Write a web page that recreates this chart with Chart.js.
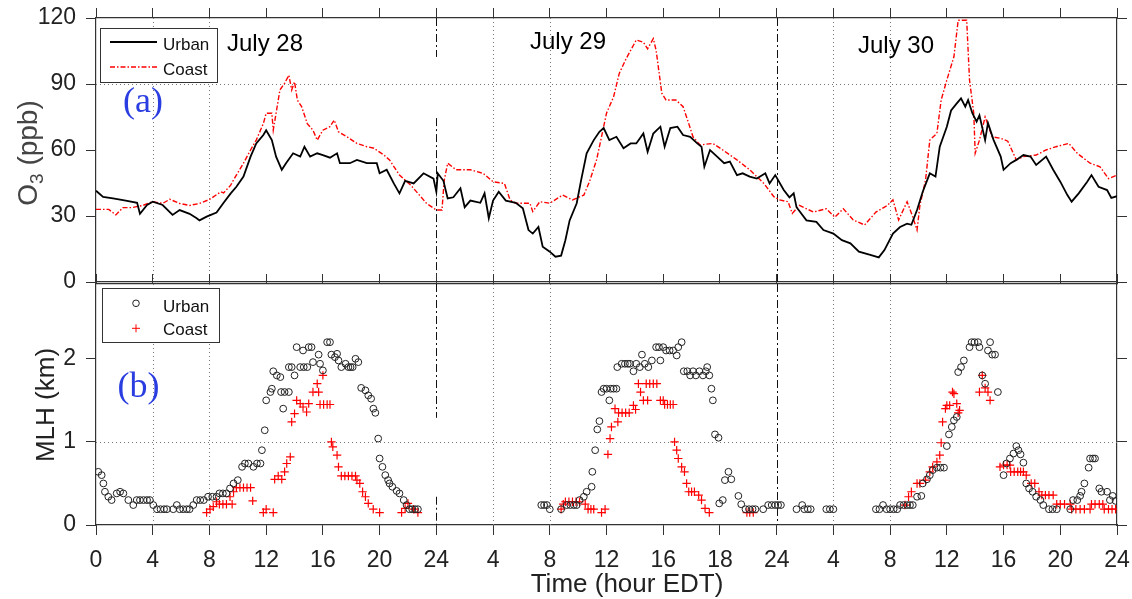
<!DOCTYPE html>
<html>
<head>
<meta charset="utf-8">
<script src="https://cdn.jsdelivr.net/npm/chart.js@4.4.1/dist/chart.umd.min.js"></script>
<style>
  html, body { margin: 0; padding: 0; background: #fff; }
  #wrap { position: relative; width: 1132px; height: 599px; overflow: hidden; }
  #cA { position: absolute; left: 0; top: 0; }
  #cB { position: absolute; left: 0; top: 270px; }
</style>
</head>
<body>
<div id="wrap">
  <canvas id="cA" width="1132" height="290" style="width:1132px;height:290px"></canvas>
  <canvas id="cB" width="1132" height="329" style="width:1132px;height:329px"></canvas>
</div>
<script>
// ---- axes ----
const xTickPos = [0,4,8,12,16,20,24,28,32,36,40,44,48,52,56,60,64,68,72];
const xTickLabels = ['0','4','8','12','16','20','24','4','8','12','16','18','24','4','8','12','16','20','24'];
const o3Ticks = [0,30,60,90,120];
const mlhTicks = [0,1,2];
const seriesNames = ['Urban','Coast'];
const dayLabels = ['July 28','July 29','July 30'];
const nightHours = [4,8,28,32,52,56];

// ---- (a) O3, ppb ----
const urbanO3Hours = [0,0.5,1.2,2.1,2.9,3.1,3.6,4.0,4.7,5.4,
  5.9,6.6,7.1,7.3,7.8,8.1,8.5,9.0,9.5,9.9,
  10.4,10.9,11.3,11.8,12.0,12.4,12.7,13.1,13.4,13.9,
  14.4,14.7,15.1,15.6,16.0,16.5,17.0,17.2,17.9,18.4,
  19.1,19.8,20.0,20.5,21.0,21.4,21.8,22.4,23.1,23.8,
  24.0,24.1,24.5,24.8,25.2,25.7,26.0,26.4,27.1,27.4,
  27.7,28.0,28.4,28.9,29.6,30.1,30.5,30.8,31.2,31.5,
  32.0,32.4,32.8,33.1,33.4,33.9,34.2,34.6,35.1,35.5,
  35.8,36.2,36.7,37.2,37.7,38.1,38.6,38.9,39.3,39.8,
  40.1,40.5,41.0,41.4,41.9,42.4,42.7,42.9,43.3,43.8,
  44.3,44.7,45.2,45.6,46.1,46.6,47.2,47.5,47.9,48.5,
  48.9,49.2,49.4,50.1,50.8,51.3,52.0,52.6,53.2,53.8,
  54.6,55.2,55.6,56.2,56.7,57.2,57.5,57.9,58.3,58.8,
  59.2,59.5,60.0,60.3,60.7,61.0,61.3,61.5,61.8,62.1,
  62.3,62.7,62.9,63.3,63.8,64.0,64.5,64.9,65.4,65.9,
  66.3,67.0,67.5,68.0,68.5,68.8,69.3,69.9,70.2,70.7,
  71.3,71.6,72.0];
const urbanO3 = [41.5,38.7,38,37,36,31,35,36.5,35,30.5,
  32.7,31,29,28,29.7,30.5,31.6,36,40.3,43.3,
  47.9,57,63,66.8,69,64.5,57,51,54,58.5,
  57,61.5,57,58.5,57.7,56.5,58.5,54,54,55.5,
  54,54,49.4,51,44.8,40.3,46,44.8,49.4,47,
  41,49.4,46,38,38.5,42.6,34,37,36,40.3,
  29,37,41,37,36,33.5,23.6,22,25,16,
  13.8,11.5,12,19,28,35.8,46,58.5,64.5,68.3,
  70,64.5,66,60.8,63,63,67.5,59.2,67.5,70.6,
  61.5,70,70.6,66.8,66,63,61.5,52.4,60,57,
  54,54.7,48.6,49.4,47.9,47,49.4,44.8,48.6,41.8,
  38.5,40.3,34,28,27.3,23.6,22,19,17.6,13.8,
  12.3,11.2,14.5,22,25,26.5,26,32.7,41,49.4,
  47.9,61.5,70.6,78,81.2,83.5,79.7,82.7,76.7,72.9,
  75.8,64.5,72.3,64.5,57,51,54,55.5,57.7,57,
  53.2,57,51,45.6,39.5,36.5,40.3,45.6,48.6,43.3,
  41.8,38.2,39];

const coastO3Hours = [0,0.9,1.4,1.9,2.5,3.3,4.0,4.7,5.2,5.9,
  6.6,7.3,8.0,8.8,9.0,9.5,9.7,10.4,10.9,11.3,
  11.8,12.0,12.4,12.5,12.97,13.3,13.6,13.8,14.0,14.2,
  14.5,14.9,15.3,15.6,16.0,16.5,16.8,17.1,17.7,18.4,
  19.1,19.6,20.3,20.7,21.4,22.2,22.9,23.3,24.0,24.4,
  24.55,24.8,25.4,26.4,27.3,28.0,28.8,29.2,29.6,30.6,
  30.8,31.3,32.0,32.9,33.6,34.4,34.8,35.3,35.6,36.0,
  36.5,36.9,37.4,38.1,38.6,38.9,39.3,39.5,39.9,40.2,
  40.9,41.4,41.8,42.1,42.6,43.5,44.2,45.2,46.1,47.1,
  47.8,48.2,48.8,49.1,49.6,50.6,51.5,52.1,52.7,53.4,
  54.2,55.0,55.8,56.2,56.6,57.2,57.6,57.9,58.1,58.5,
  58.8,59.3,59.6,60.0,60.5,60.8,61.4,61.6,61.9,62.0,
  62.3,62.7,63.2,63.8,64.3,64.9,65.4,66.3,67.0,67.7,
  68.6,69.2,70.1,70.8,71.4,72.0];
const coastO3 = [33,33,30.5,33.8,33.8,34.8,36.5,35.7,37.6,35.7,
  34.8,35.7,37.5,41,40.5,44,46.4,54,60,64.5,
  72,76.7,76.7,69,87.3,90.3,94,87.3,91,82.7,
  79.7,72,69,64.5,69,70.6,73.6,68.3,66,63,
  61.5,60.8,57.7,55.5,48.6,44,38.8,35.8,32.7,32.7,
  46,54,51,51,49.4,45.6,44.8,37.3,35.8,35.8,
  32,36.5,35.8,39.5,37.3,39.5,45.6,55.5,64.5,76.7,
  84.2,94.8,101.7,110,109,106,110.6,105.3,85.8,82.7,
  82.7,79.7,72,66,62.3,63,60,55.5,51,44.8,
  38.8,37.3,36.5,31.2,34.8,31.8,33.3,29.5,33.3,28.2,
  25.9,31.8,34.8,37.3,28.2,36.5,29.5,23.6,34.8,46.4,
  64.5,67.6,82.7,91.8,102.4,119,119,91.8,76.7,58.5,
  64.5,75,66,65.3,64,55.5,57,57.7,60,61.5,
  63,58.5,54,52.4,47,48.6];

// ---- (b) MLH, km : [hour, km] ----
const urbanMlh = [
  [0.16,0.64],[0.4,0.6],[0.52,0.5],[0.63,0.4],[0.87,0.34],[1.1,0.3],[1.46,0.38],[1.7,0.4],[1.93,0.38],[2.28,0.3],
  [2.63,0.24],[2.87,0.3],[3.1,0.3],[3.35,0.3],[3.6,0.3],[3.8,0.3],[4.04,0.24],[4.3,0.19],[4.55,0.19],[4.8,0.19],
  [5.0,0.19],[5.45,0.19],[5.7,0.24],[5.9,0.19],[6.15,0.19],[6.4,0.19],[6.6,0.19],[6.86,0.24],[7.1,0.3],[7.35,0.3],
  [7.6,0.3],[7.9,0.34],[8.2,0.34],[8.5,0.34],[8.7,0.38],[8.95,0.38],[9.2,0.38],[9.45,0.44],[9.7,0.5],[10.0,0.54],
  [10.3,0.7],[10.5,0.74],[10.75,0.74],[11.1,0.7],[11.35,0.74],[11.6,0.74],[11.7,0.9],[11.9,1.14],[12.0,1.5],[12.3,1.6],
  [12.4,1.64],[12.5,1.85],[12.75,1.8],[13.0,1.78],[13.05,1.6],[13.2,1.4],[13.3,1.6],[13.6,1.6],[13.6,1.9],[13.8,1.9],
  [14.0,1.8],[14.15,2.14],[14.4,1.9],[14.6,2.1],[14.65,1.9],[14.9,1.9],[15.0,2.14],[15.2,2.14],[15.3,1.96],[15.7,2.05],
  [15.8,1.94],[16.0,1.86],[16.3,2.2],[16.5,2.2],[16.6,2.05],[16.85,2.02],[17.0,2.06],[17.1,1.98],[17.3,1.9],[17.6,1.94],
  [17.8,1.9],[17.95,1.9],[18.1,1.9],[18.3,2.0],[18.5,1.96],[18.7,1.65],[19.0,1.62],[19.2,1.56],[19.4,1.52],[19.56,1.4],
  [19.7,1.35],[19.9,1.04],[20.0,0.8],[20.2,0.7],[20.4,0.6],[20.6,0.54],[20.7,0.5],[20.9,0.46],[21.2,0.41],[21.4,0.38],
  [21.7,0.3],[21.9,0.24],[22.1,0.19],[22.3,0.19],[22.5,0.19],[22.7,0.19],
  [31.4,0.24],[31.6,0.24],[31.8,0.24],[32.0,0.19],[32.8,0.19],[33.2,0.24],[33.45,0.24],[33.7,0.24],[33.9,0.24],[34.1,0.3],
  [34.4,0.34],[34.6,0.4],[34.95,0.46],[35.0,0.64],[35.2,0.9],[35.35,1.15],[35.5,1.25],[35.65,1.6],[35.8,1.64],[36.0,1.64],
  [36.2,1.5],[36.3,1.64],[36.5,1.64],[36.7,1.64],[36.76,1.9],[37.07,1.94],[37.3,1.94],[37.5,1.94],[37.65,1.94],[37.9,1.85],
  [38.1,1.94],[38.35,1.9],[38.5,2.05],[38.7,1.94],[38.95,1.9],[39.2,1.98],[39.5,2.14],[39.7,2.14],[39.8,1.98],[40.0,2.14],
  [40.2,2.1],[40.45,2.1],[40.7,2.1],[40.95,2.04],[41.06,2.14],[41.3,2.2],[41.45,1.85],[41.7,1.85],[41.9,1.8],[42.1,1.85],
  [42.3,1.8],[42.55,1.85],[42.8,1.8],[43.0,1.85],[43.1,1.9],[43.25,1.8],[43.4,1.64],[43.5,1.5],[43.65,1.09],[43.9,1.05],
  [43.95,0.26],[44.2,0.3],[44.35,0.54],[44.6,0.64],[44.8,0.55],[45.3,0.35],[45.5,0.25],[45.8,0.19],[46.05,0.19],[46.3,0.19],
  [46.5,0.19],[47.05,0.19],[47.4,0.24],[47.65,0.24],[47.9,0.24],[48.1,0.24],
  [48.3,0.24],[49.4,0.19],[49.8,0.24],[49.95,0.19],[50.2,0.19],[50.4,0.19],[51.5,0.19],[51.75,0.19],[52.0,0.19],[55.0,0.19],
  [55.25,0.19],[55.5,0.24],[55.75,0.19],[56.0,0.19],[56.25,0.19],[56.5,0.19],[56.7,0.24],[56.95,0.24],[57.2,0.24],[57.4,0.24],
  [57.6,0.24],[57.9,0.34],[58.2,0.35],[58.3,0.5],[58.6,0.55],[58.8,0.6],[59.0,0.66],[59.3,0.69],[59.55,0.69],[59.8,0.69],
  [60.0,0.95],[60.15,1.09],[60.35,1.18],[60.5,1.26],[60.7,1.3],[60.8,1.84],[61.0,1.9],[61.2,1.98],[61.6,2.14],[61.75,2.2],
  [61.95,2.2],[62.2,2.2],[62.3,2.14],[62.5,1.8],[62.7,1.7],[62.9,2.1],[63.05,2.2],[63.2,2.05],[63.4,2.05],[63.6,1.6],
  [64.0,0.6],[64.2,0.74],[64.45,0.8],[64.7,0.86],[64.9,0.95],[65.05,0.9],[65.2,0.85],[65.4,0.75],[65.6,0.5],[65.8,0.44],
  [66.05,0.4],[66.3,0.34],[66.6,0.3],[66.8,0.24],[67.2,0.19],[67.45,0.19],[67.75,0.19],[68.7,0.19],[68.9,0.3],[69.2,0.3],
  [69.4,0.35],[69.5,0.4],[69.7,0.5],[70.0,0.69],[70.1,0.8],[70.3,0.8],[70.45,0.8],[70.75,0.44],[70.9,0.4],[71.3,0.4],
  [71.5,0.3],[71.7,0.35],[71.9,0.29]
];
const coastMlh = [
  [7.8,0.15],[8.04,0.19],[8.27,0.22],[8.5,0.28],[8.7,0.25],[8.95,0.25],[9.2,0.25],[9.45,0.34],[9.6,0.25],[9.7,0.4],
  [9.9,0.45],[10.15,0.45],[10.4,0.45],[10.65,0.45],[10.9,0.45],[11.05,0.29],[11.8,0.15],[12.0,0.19],[12.5,0.15],[12.6,0.55],
  [12.85,0.59],[13.1,0.55],[13.3,0.64],[13.45,0.74],[13.7,0.82],[13.8,1.24],[14.0,1.34],[14.15,1.5],[14.4,1.46],[14.6,1.42],
  [14.85,1.36],[15.0,1.46],[15.3,1.6],[15.6,1.7],[15.7,1.6],[15.8,1.45],[16.0,1.8],[16.05,1.45],[16.3,1.45],[16.5,1.45],
  [16.6,1.0],[16.7,0.94],[17.0,0.84],[17.1,0.7],[17.3,0.59],[17.55,0.59],[17.8,0.59],[18.05,0.59],[18.3,0.59],[18.4,0.54],
  [18.6,0.5],[18.8,0.4],[19.0,0.34],[19.2,0.26],[19.55,0.19],[20.0,0.15],[21.55,0.15],[21.8,0.2],[22.0,0.26],[22.4,0.19],
  [22.7,0.15],
  [32.8,0.19],[32.95,0.25],[33.1,0.28],[33.35,0.28],[33.6,0.28],[33.85,0.28],[34.1,0.28],[34.5,0.25],[34.7,0.19],[34.9,0.19],
  [35.1,0.19],[35.65,0.15],[35.9,0.19],[36.1,0.85],[36.25,1.04],[36.35,1.18],[36.6,1.4],[36.8,1.24],[36.85,1.35],[37.1,1.35],
  [37.35,1.35],[37.6,1.35],[37.9,1.44],[38.05,1.39],[38.25,1.7],[38.4,1.6],[38.6,1.5],[38.8,1.7],[38.9,1.5],[39.05,1.7],
  [39.3,1.7],[39.55,1.7],[39.8,1.5],[40.0,1.5],[40.1,1.45],[40.3,1.45],[40.5,1.45],[40.7,1.45],[40.8,1.0],[40.95,0.9],
  [41.06,0.8],[41.3,0.7],[41.5,0.64],[41.65,0.5],[41.8,0.4],[42.0,0.4],[42.2,0.4],[42.5,0.36],[42.7,0.3],[42.95,0.2],
  [43.25,0.15],[45.9,0.15],[46.1,0.15],[46.35,0.15],
  [57.05,0.24],[57.3,0.34],[57.5,0.4],[57.9,0.5],[58.1,0.5],[58.5,0.54],[58.8,0.64],[59.0,0.7],[59.3,0.76],[59.5,0.84],
  [59.6,0.99],[59.7,1.24],[59.9,1.4],[60.0,1.44],[60.2,1.44],[60.4,1.6],[60.5,1.58],[60.7,1.46],[60.8,1.35],[60.9,1.38],
  [62.3,1.6],[62.5,1.8],[62.7,1.65],[62.9,1.6],[63.05,1.5],[63.75,0.7],[64.0,0.72],[64.25,0.72],[64.45,0.72],[64.5,0.64],
  [64.75,0.64],[65.0,0.64],[65.2,0.64],[65.4,0.64],[65.6,0.6],[65.95,0.5],[66.2,0.5],[66.5,0.4],[66.7,0.36],[66.95,0.36],
  [67.2,0.36],[67.5,0.36],[67.75,0.25],[68.0,0.25],[68.3,0.25],[68.7,0.25],[68.8,0.19],[69.1,0.19],[69.4,0.19],[69.7,0.19],
  [70.1,0.19],[70.2,0.25],[70.45,0.25],[70.75,0.25],[71.0,0.25],[71.1,0.19],[71.4,0.19],[71.65,0.19],[71.9,0.19]
];

// ---- helpers ----
const FONT = "'Liberation Sans', Arial, Helvetica, sans-serif";
const SERIF = "'Liberation Serif', 'Times New Roman', serif";
const AXIS = '#333';
const URBAN_COLOR = '#000';
const COAST_COLOR = '#ff0000';
const COAST_DASH = [5, 2, 1.5, 2];

const zip = (xs, ys) => xs.map((x, i) => ({x: x, y: ys[i]}));
const fromPairs = arr => arr.map(p => ({x: p[0], y: p[1]}));

function seg(ctx, x0, y0, x1, y1) {
  ctx.beginPath(); ctx.moveTo(x0, y0); ctx.lineTo(x1, y1); ctx.stroke();
}

// fixed axis sizes so both panels line up exactly
function axisX(pos, size, labels, tick) {
  return {
    type: 'linear', position: pos, min: 0, max: 72,
    afterBuildTicks: s => { s.ticks = xTickPos.map(v => ({value: v})); },
    afterFit: s => { s.height = size; s.paddingLeft = 0; s.paddingRight = 0; },
    ticks: {display: labels, autoSkip: false, maxRotation: 0, padding: 12, color: '#222',
      font: {family: FONT, size: 23}, callback: (v, i) => xTickLabels[i]},
    grid: {drawOnChartArea: false, drawTicks: tick > 0, tickLength: tick, tickColor: AXIS},
    border: {color: AXIS, width: 1.2}
  };
}

function axisY(pos, size, ticks, max, labels) {
  return {
    type: 'linear', position: pos, min: 0, max: max,
    afterBuildTicks: s => { s.ticks = ticks.map(v => ({value: v})); },
    afterFit: s => { s.width = size; s.paddingTop = 0; s.paddingBottom = 0; },
    ticks: {display: labels, padding: 10, color: '#222', font: {family: FONT, size: 23}},
    grid: {drawOnChartArea: false, tickLength: 10, tickColor: AXIS},
    border: {color: AXIS, width: 1.2}
  };
}

function drawGuides(chart, gridValue, dashSegs) {
  const {ctx, chartArea: a} = chart;
  const x = chart.scales.x, y = chart.scales.y;
  ctx.save();
  ctx.lineWidth = 1;
  ctx.strokeStyle = '#777';
  ctx.setLineDash([1, 3]);
  nightHours.forEach(h => {
    const px = Math.round(x.getPixelForValue(h)) + 0.5;
    seg(ctx, px, a.top, px, a.bottom);
  });
  const gy = Math.round(y.getPixelForValue(gridValue)) + 0.5;
  seg(ctx, a.left, gy, a.right, gy);
  ctx.strokeStyle = '#111';
  ctx.setLineDash([8, 3, 2, 3]);
  dashSegs.forEach(d => {
    const px = Math.round(x.getPixelForValue(d[0])) + 0.5;
    seg(ctx, px, y.getPixelForValue(d[1]), px, y.getPixelForValue(d[2]));
  });
  ctx.restore();
}

function legendBox(ctx, x, y, w, h) {
  ctx.fillStyle = '#fff';
  ctx.fillRect(x, y, w, h);
  ctx.strokeStyle = '#333';
  ctx.lineWidth = 1;
  ctx.strokeRect(x, y, w, h);
}

// ---- panel (a) ----
const decorA = {
  id: 'decorA',
  beforeDatasetsDraw(chart) {
    drawGuides(chart, 90, [[24, 120, 102.3], [24, 74.5, 0], [48, 120, 0]]);
  },
  afterDatasetsDraw(chart) {
    const ctx = chart.ctx;
    ctx.save();
    legendBox(ctx, 100.5, 28.5, 117, 54);
    ctx.lineWidth = 1.8; ctx.strokeStyle = URBAN_COLOR;
    seg(ctx, 110, 42, 157, 42);
    ctx.lineWidth = 1.4; ctx.strokeStyle = COAST_COLOR; ctx.setLineDash(COAST_DASH);
    seg(ctx, 110, 67, 157, 67);
    ctx.setLineDash([]);
    ctx.fillStyle = '#111';
    ctx.font = '17px ' + FONT;
    ctx.textBaseline = 'alphabetic';
    ctx.textAlign = 'left';
    ctx.fillText(seriesNames[0], 163, 49.5);
    ctx.fillText(seriesNames[1], 163, 75);

    ctx.font = '24px ' + FONT;
    ctx.fillStyle = '#000';
    ctx.textAlign = 'center';
    ctx.fillText(dayLabels[0], 265, 51);
    ctx.fillText(dayLabels[1], 568, 49);
    ctx.fillText(dayLabels[2], 896, 53);

    ctx.font = '36px ' + SERIF;
    ctx.fillStyle = '#2a3de0';
    ctx.fillText('(a)', 143, 112);

    // y title O3 (ppb)
    ctx.translate(27, 153);
    ctx.rotate(-Math.PI / 2);
    ctx.fillStyle = '#444';
    ctx.textAlign = 'left';
    const big = '28px ' + FONT, small = '19px ' + FONT;
    ctx.font = big; const wO = ctx.measureText('O').width;
    ctx.font = small; const w3 = ctx.measureText('3').width;
    ctx.font = big; const wR = ctx.measureText(' (ppb)').width;
    let sx = -(wO + w3 + wR) / 2;
    const base = 0.36 * 28;
    ctx.fillText('O', sx, base);
    ctx.font = small; ctx.fillText('3', sx + wO, base + 6);
    ctx.font = big; ctx.fillText(' (ppb)', sx + wO + w3, base);
    ctx.restore();
  }
};

new Chart(document.getElementById('cA'), {
  type: 'scatter',
  data: {
    datasets: [
      {label: seriesNames[0], data: zip(urbanO3Hours, urbanO3), showLine: true, borderColor: URBAN_COLOR,
        borderWidth: 1.8, pointRadius: 0, tension: 0, xAxisID: 'x', yAxisID: 'y'},
      {label: seriesNames[1], data: zip(coastO3Hours, coastO3), showLine: true, borderColor: COAST_COLOR,
        borderWidth: 1.4, borderDash: COAST_DASH, pointRadius: 0, tension: 0, xAxisID: 'x', yAxisID: 'y'}
    ]
  },
  options: {
    responsive: false, animation: false, events: [],
    layout: {padding: 0},
    plugins: {legend: {display: false}, tooltip: {enabled: false}},
    scales: {
      x: axisX('bottom', 8, false, 0),
      xTop: axisX('top', 18, false, 10),
      y: axisY('left', 96, o3Ticks, 120, true),
      yRight: axisY('right', 15, o3Ticks, 120, false)
    }
  },
  plugins: [decorA]
});

// ---- panel (b) ----
const decorB = {
  id: 'decorB',
  beforeDatasetsDraw(chart) {
    drawGuides(chart, 1, [[24, 2.9, 1.29], [24, 0.34, 0], [48, 2.9, 0]]);
  },
  afterDatasetsDraw(chart) {
    const ctx = chart.ctx;
    ctx.save();
    legendBox(ctx, 102.5, 18.5, 117, 54);
    ctx.lineWidth = 1; ctx.strokeStyle = '#222';
    ctx.beginPath(); ctx.arc(136, 33.3, 3.3, 0, Math.PI * 2); ctx.stroke();
    ctx.strokeStyle = COAST_COLOR;
    seg(ctx, 132, 58.3, 140, 58.3);
    seg(ctx, 136, 54.3, 136, 62.3);
    ctx.fillStyle = '#111';
    ctx.font = '17px ' + FONT;
    ctx.textAlign = 'left';
    ctx.textBaseline = 'alphabetic';
    ctx.fillText(seriesNames[0], 163, 41.7);
    ctx.fillText(seriesNames[1], 163, 65);

    ctx.font = '36px ' + SERIF;
    ctx.fillStyle = '#2a3de0';
    ctx.textAlign = 'center';
    ctx.fillText('(b)', 138.5, 127);

    ctx.font = '26px ' + FONT;
    ctx.fillStyle = '#222';
    ctx.fillText('Time (hour EDT)', 627, 322);

    ctx.translate(45, 135);
    ctx.rotate(-Math.PI / 2);
    ctx.fillText('MLH (km)', 0, 0.36 * 26);
    ctx.restore();
  }
};

new Chart(document.getElementById('cB'), {
  type: 'scatter',
  data: {
    datasets: [
      {label: seriesNames[0], data: fromPairs(urbanMlh), pointStyle: 'circle', pointRadius: 3.4,
        pointBorderWidth: 1, pointBorderColor: '#222', pointBackgroundColor: 'rgba(0,0,0,0)',
        borderColor: '#222', backgroundColor: 'rgba(0,0,0,0)', xAxisID: 'x', yAxisID: 'y'},
      {label: seriesNames[1], data: fromPairs(coastMlh), pointStyle: 'cross', pointRadius: 4.2,
        pointBorderWidth: 1.2, pointBorderColor: COAST_COLOR, borderColor: COAST_COLOR, xAxisID: 'x', yAxisID: 'y'}
    ]
  },
  options: {
    responsive: false, animation: false, events: [],
    layout: {padding: 0},
    plugins: {legend: {display: false}, tooltip: {enabled: false}},
    scales: {
      x: axisX('bottom', 74, true, 10),
      xTop: axisX('top', 14, false, 10),
      y: axisY('left', 96, mlhTicks, 2.9, true),
      yRight: axisY('right', 15, mlhTicks, 2.9, false)
    }
  },
  plugins: [decorB]
});
</script>
</body>
</html>
